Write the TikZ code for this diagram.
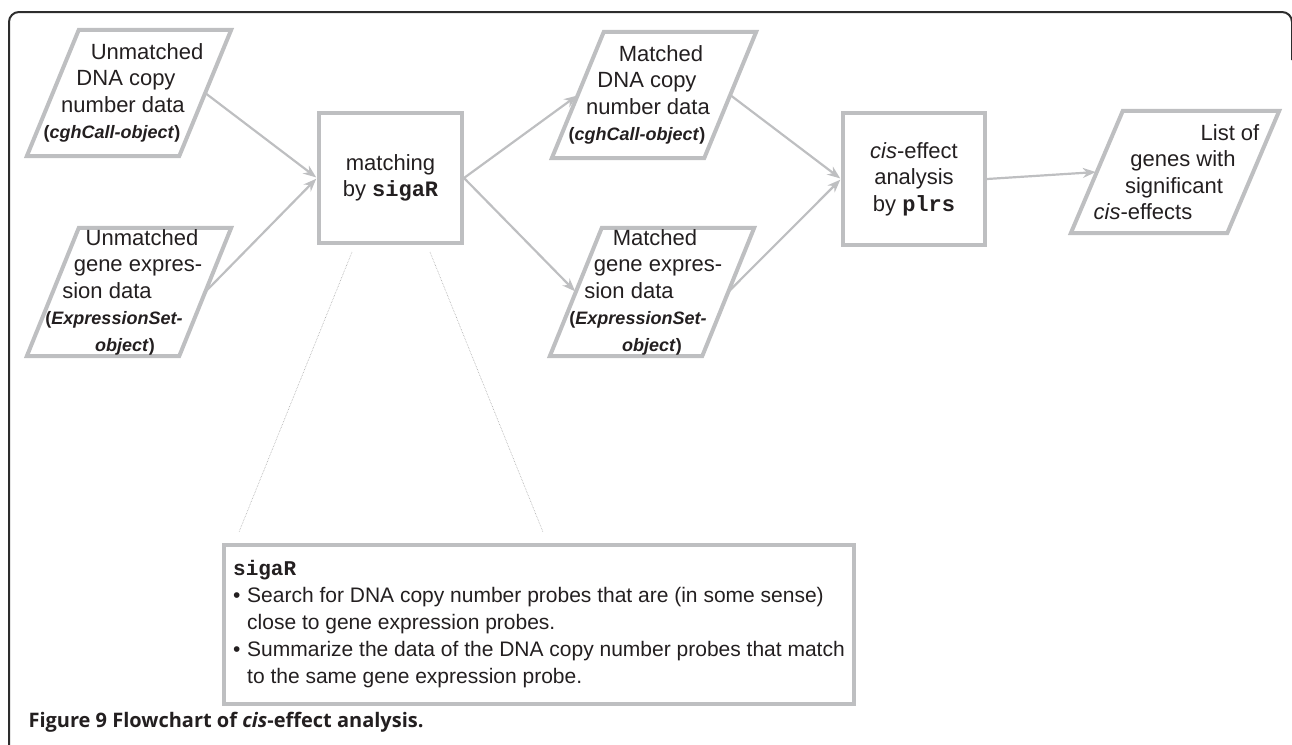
\documentclass[tikz,border=0pt]{standalone}
\usepackage{fontspec}
\setmainfont{Liberation Sans}
\setmonofont{Liberation Mono}
\newfontfamily\capfont{Open Sans}
\usetikzlibrary{arrows.meta}
\definecolor{boxgray}{RGB}{190,191,193}
\definecolor{framegray}{RGB}{45,45,45}
\definecolor{inkgray}{RGB}{35,31,32}
\newcommand{\lsh}[2]{\hspace*{#1}#2}
\newcommand{\code}[1]{\texttt{\textbf{#1}}}
\newcommand{\obj}[1]{{\fontsize{18}{22}\selectfont\bfseries #1}}
\tikzset{
  data/.style={minimum width=152pt, minimum height=126pt, inner sep=0pt,
    append after command={\pgfextra{\draw[boxgray, line width=4pt, line join=miter]
      ([xshift=26pt]\tikzlastnode.north west) -- ([xshift=26pt]\tikzlastnode.north east)
      -- ([xshift=-26pt]\tikzlastnode.south east) -- ([xshift=-26pt]\tikzlastnode.south west)
      -- cycle;}}},
  datatext/.style={align=center, inner sep=0pt, text=inkgray,
    font=\fontsize{22}{26.5}\selectfont},
  proc/.style={draw=boxgray, line width=4pt, minimum width=143pt,
    minimum height=130pt, align=center, text=inkgray,
    font=\fontsize{22}{26.5}\selectfont},
  notebox/.style={draw=boxgray, line width=4pt, minimum width=630pt,
    minimum height=159pt, align=left, text=inkgray,
    font=\fontsize{21}{27}\selectfont},
  flow/.style={draw=boxgray, line width=2.2pt,
    -{Stealth[length=13pt,width=10pt]}, shorten >=1pt},
  zoomline/.style={draw=gray!70, line width=0.6pt, densely dotted}
}
\begin{document}
\begin{tikzpicture}[x=1pt,y=-1pt]
\useasboundingbox (0,0) rectangle (1292,744);
\draw[framegray, line width=2pt, rounded corners=10pt] (9,760) -- (9,12) -- (1292,12) -- (1292,60);

\node[data, label={[datatext]center:{\lsh{36pt}{Unmatched}\\\lsh{-6pt}{DNA copy}\\\lsh{-12pt}{number data}\\\lsh{-34pt}{\obj{(\textit{cghCall-object})}}}}] (umdna) at (129,93) {};
\node[data, minimum height=128pt, label={[datatext]center:{\lsh{26pt}{Unmatched}\\\lsh{18pt}{gene expres-}\\\lsh{-44pt}{sion data}\\\lsh{-30pt}{\obj{(\textit{ExpressionSet-}}}\\\lsh{-8pt}{\obj{\textit{object})}}}}] (umgene) at (129,292) {};
\node[proc] (match) at (390.5,178) {matching\\by \code{sigaR}};
\node[data, label={[datatext]center:{\lsh{14pt}{Matched}\\\lsh{-14pt}{DNA copy}\\\lsh{-12pt}{number data}\\\lsh{-34pt}{\obj{(\textit{cghCall-object})}}}}] (mdna) at (654,95) {};
\node[data, minimum height=128pt, label={[datatext]center:{\lsh{6pt}{Matched}\\\lsh{12pt}{gene expres-}\\\lsh{-46pt}{sion data}\\\lsh{-28pt}{\obj{(\textit{ExpressionSet-}}}\\\lsh{0pt}{\obj{\textit{object})}}}}] (mgene) at (652,292) {};
\node[proc, minimum width=142pt, minimum height=132pt] (cis) at (914,179) {\textit{cis}-effect\\analysis\\by \code{plrs}};
\node[data, minimum width=156pt, minimum height=122pt, label={[datatext]center:{\lsh{110pt}{List of}\\\lsh{16pt}{genes with}\\\lsh{-2pt}{significant}\\\lsh{-64pt}{\textit{cis}-effects}}}] (genes) at (1175,172) {};

\draw[flow] (umdna.east) -- (match.west);
\draw[flow] (umgene.east) -- (match.west);
\draw[flow] (match.east) -- (mdna.west);
\draw[flow] (match.east) -- (mgene.west);
\draw[flow] (mdna.east) -- (cis.west);
\draw[flow] (mgene.east) -- (cis.west);
\draw[flow] (cis.east) -- (genes.west);

\node[notebox, anchor=north west] (note) at (222,543) {\code{sigaR}\\
\makebox[14pt][l]{\textbullet}Search for DNA copy number probes that are (in some sense)\\
\hspace*{14pt}close to gene expression probes.\\
\makebox[14pt][l]{\textbullet}Summarize the data of the DNA copy number probes that match\\
\hspace*{14pt}to the same gene expression probe.};

\coordinate (zl) at (239,532);
\coordinate (zr) at (543,532);
\draw[zoomline] ([xshift=35pt,yshift=-7pt]match.south west) -- (zl);
\draw[zoomline] ([xshift=-34pt,yshift=-7pt]match.south east) -- (zr);

\node[anchor=base west, text=inkgray, font=\capfont\bfseries\fontsize{20}{24}\selectfont] (cap) at (25,727) {Figure 9 Flowchart of \textit{cis}-effect analysis.};
\end{tikzpicture}
\end{document}
